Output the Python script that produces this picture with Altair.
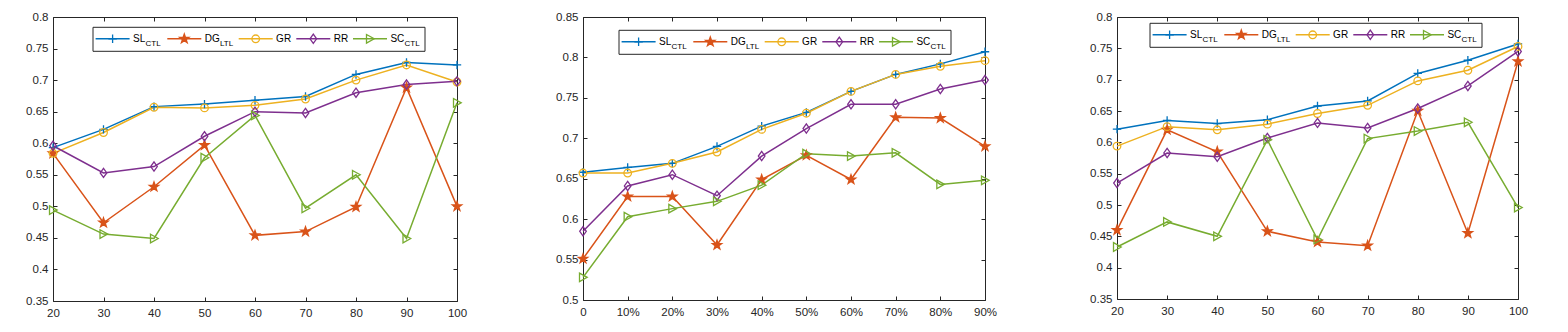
import math
import altair as alt
import pandas as pd

# ---------------- data ----------------
SERIES = ["SL", "DG", "GR", "RR", "SC"]
SUBSCRIPTS = ["CTL", "LTL", "", "", "CTL"]
COLORS = ["#0072BD", "#D95319", "#EDB120", "#7E2F8E", "#77AC30"]

X_COUNT = [20, 30, 40, 50, 60, 70, 80, 90, 100]
X_PCT = [0, 10, 20, 30, 40, 50, 60, 70, 80, 90]

P1_SL = [0.593, 0.622, 0.658, 0.662, 0.668, 0.674, 0.709, 0.728, 0.724]
P1_DG = [0.584, 0.474, 0.531, 0.597, 0.454, 0.460, 0.499, 0.688, 0.500]
P1_GR = [0.584, 0.617, 0.657, 0.656, 0.660, 0.670, 0.700, 0.724, 0.697]
P1_RR = [0.596, 0.553, 0.563, 0.611, 0.650, 0.648, 0.680, 0.693, 0.698]
P1_SC = [0.494, 0.456, 0.449, 0.577, 0.644, 0.497, 0.550, 0.449, 0.664]

P2_SL = [0.658, 0.664, 0.669, 0.690, 0.715, 0.732, 0.758, 0.779, 0.792, 0.807]
P2_DG = [0.551, 0.628, 0.628, 0.568, 0.649, 0.679, 0.649, 0.726, 0.725, 0.690]
P2_GR = [0.657, 0.657, 0.669, 0.683, 0.711, 0.731, 0.758, 0.779, 0.789, 0.796]
P2_RR = [0.585, 0.641, 0.655, 0.629, 0.678, 0.712, 0.742, 0.742, 0.761, 0.772]
P2_SC = [0.528, 0.603, 0.613, 0.622, 0.642, 0.681, 0.678, 0.682, 0.643, 0.648]

P3_SL = [0.621, 0.635, 0.630, 0.636, 0.658, 0.666, 0.710, 0.731, 0.757]
P3_DG = [0.460, 0.620, 0.585, 0.458, 0.441, 0.435, 0.650, 0.455, 0.729]
P3_GR = [0.594, 0.625, 0.620, 0.629, 0.646, 0.659, 0.698, 0.715, 0.753]
P3_RR = [0.535, 0.583, 0.577, 0.607, 0.631, 0.623, 0.654, 0.690, 0.745]
P3_SC = [0.433, 0.473, 0.450, 0.604, 0.445, 0.606, 0.618, 0.632, 0.496]

Y_TICKS_A = [0.35, 0.4, 0.45, 0.5, 0.55, 0.6, 0.65, 0.7, 0.75, 0.8]
Y_TICKS_B = [0.5, 0.55, 0.6, 0.65, 0.7, 0.75, 0.8, 0.85]

FONT = "Liberation Sans"
AXIS_COLOR = "#262626"

# ---------------- marker geometry (pixels) ----------------
KINDS = ["plus", "star", "circle", "diamond", "triangle"]


def _poly(points, k):
    return "M" + "L".join(f"{x * k:.4f},{y * k:.4f}" for x, y in points) + "Z"


def marker(kind, half):
    k = 1.0 / half
    if kind == "plus":
        a = 4.2 * k
        return f"M{-a:.4f},0H{a:.4f}M0,{-a:.4f}V{a:.4f}"
    if kind == "star":
        parts = []
        for R in (4.9, 3.1, 1.5):
            pts = []
            for i in range(10):
                ang = math.radians(-90 + 36 * i)
                r = R if i % 2 == 0 else R * 0.40
                pts.append((r * math.cos(ang), r * math.sin(ang)))
            parts.append(_poly(pts, k))
        return "".join(parts)
    if kind == "circle":
        r = 3.8 * k
        return (f"M{-r:.4f},0A{r:.4f},{r:.4f} 0 1,0 {r:.4f},0"
                f"A{r:.4f},{r:.4f} 0 1,0 {-r:.4f},0Z")
    if kind == "diamond":
        return _poly([(0, -4.6), (3.3, 0), (0, 4.6), (-3.3, 0)], k)
    return _poly([(-3.5, -4.3), (4.2, 0), (-3.5, 4.3)], k)


PLOT_HALF = 5.0
MARK_SIZE = PLOT_HALF * PLOT_HALF * 4
PLOT_SHAPES = [marker(kd, PLOT_HALF) for kd in KINDS]

# legend layout (pixels, relative to the legend box)
ENTRY_X = [2.6, 74.3, 145.7, 203.3, 260.0]
LINE_LEN = 34
LABEL_GAP = 3.4
BOX_W, BOX_H = 332, 24
LINE_Y, LABEL_BASE, SUB_BASE = 11.5, 14.5, 19.0
LEG_FS, SUB_FS = 10, 8
ADV = {"S": 667, "L": 556, "D": 722, "G": 778, "R": 722, "C": 722, "T": 611}

LEG_DF = pd.DataFrame({"series": SERIES, "sub": SUBSCRIPTS})


def text_w(s, fs):
    return sum(ADV[c] for c in s) * fs / 1000.0


def legend_layers(bx, by):
    leg = alt.Chart(LEG_DF)
    out = [leg.transform_filter(alt.datum.series == SERIES[0]).mark_rect(
        fill="white", stroke=AXIS_COLOR, strokeWidth=1).encode(
        x=alt.value(bx), x2=alt.value(bx + BOX_W),
        y=alt.value(by), y2=alt.value(by + BOX_H))]
    for i, (name, sub, col) in enumerate(zip(SERIES, SUBSCRIPTS, COLORS)):
        one = leg.transform_filter(alt.datum.series == name)
        x0 = bx + ENTRY_X[i]
        out.append(one.mark_rule(strokeWidth=1.5, color=col).encode(
            x=alt.value(x0), x2=alt.value(x0 + LINE_LEN), y=alt.value(by + LINE_Y)))
        out.append(one.mark_point(filled=False, size=MARK_SIZE, strokeWidth=1.3,
                                  opacity=1, color=col, shape=PLOT_SHAPES[i]).encode(
            x=alt.value(x0 + LINE_LEN / 2), y=alt.value(by + LINE_Y)))
        lx = x0 + LINE_LEN + LABEL_GAP
        out.append(one.mark_text(align="left", baseline="alphabetic", font=FONT,
                                 fontSize=LEG_FS, color="black").encode(
            x=alt.value(lx), y=alt.value(by + LABEL_BASE), text="series:N"))
        if sub:
            out.append(one.mark_text(align="left", baseline="alphabetic", font=FONT,
                                     fontSize=SUB_FS, color="black").encode(
                x=alt.value(lx + text_w(name, LEG_FS) + 0.3),
                y=alt.value(by + SUB_BASE), text="sub:N"))
    return out


def panel(x_vals, cols, y_dom, y_ticks, x_dom, W, H, leg_x, leg_y, pct=False):
    rows = []
    for name, vals in zip(SERIES, cols):
        for xv, yv in zip(x_vals, vals):
            rows.append({"x": xv, "y": yv, "series": name})
    df = pd.DataFrame(rows)
    base = alt.Chart(df)
    xs = alt.Scale(domain=x_dom, nice=False, zero=False)
    ys = alt.Scale(domain=y_dom, nice=False, zero=False)
    cscale = alt.Scale(domain=SERIES, range=COLORS)

    x_axis_kw = dict(values=x_vals, ticks=False, domain=False, grid=False,
                     labelPadding=6, title=None, labelFlush=False, labelOverlap=False)
    if pct:
        x_axis_kw["labelExpr"] = "datum.value == 0 ? '0' : datum.value + '%'"
    y_axis_kw = dict(values=y_ticks, format=".2~f", ticks=False, domain=False,
                     grid=False, labelPadding=5, title=None, labelFlush=False,
                     labelOverlap=False)

    lines = base.mark_line(strokeWidth=1.5).encode(
        x=alt.X("x:Q", scale=xs, axis=alt.Axis(**x_axis_kw)),
        y=alt.Y("y:Q", scale=ys, axis=alt.Axis(**y_axis_kw)),
        color=alt.Color("series:N", scale=cscale, legend=None),
    )
    points = base.mark_point(filled=False, size=MARK_SIZE,
                             strokeWidth=1.3, opacity=1).encode(
        x=alt.X("x:Q", scale=xs, axis=None),
        y=alt.Y("y:Q", scale=ys, axis=None),
        color=alt.Color("series:N", scale=cscale, legend=None),
        shape=alt.Shape("series:N", scale=alt.Scale(domain=SERIES, range=PLOT_SHAPES),
                        legend=None),
    )
    tick_kw = dict(labels=False, domain=False, grid=False, ticks=True, tickSize=4,
                   tickColor=AXIS_COLOR, tickWidth=1, title=None)
    empty = base.transform_filter("false").mark_point(opacity=0)
    ax_b = empty.encode(
        x=alt.X("x:Q", scale=xs, axis=alt.Axis(orient="top", offset=-H, values=x_vals, **tick_kw)),
        y=alt.Y("y:Q", scale=ys, axis=alt.Axis(orient="right", offset=-W, values=y_ticks, **tick_kw)),
    )
    ax_c = empty.encode(
        x=alt.X("x:Q", scale=xs, axis=alt.Axis(orient="bottom", offset=-H, values=x_vals, **tick_kw)),
        y=alt.Y("y:Q", scale=ys, axis=alt.Axis(orient="left", offset=-W, values=y_ticks, **tick_kw)),
    )

    return alt.layer(lines, points, ax_b, ax_c, *legend_layers(leg_x, leg_y)).resolve_axis(
        x="independent", y="independent").properties(width=W, height=H)


p1 = panel(X_COUNT, [P1_SL, P1_DG, P1_GR, P1_RR, P1_SC], [0.35, 0.8], Y_TICKS_A,
           [20, 100], 404, 284, 40, 10.3)
p2 = panel(X_PCT, [P2_SL, P2_DG, P2_GR, P2_RR, P2_SC], [0.5, 0.85], Y_TICKS_B,
           [0, 90], 402, 283, 36, 13.3, pct=True)
p3 = panel(X_COUNT, [P3_SL, P3_DG, P3_GR, P3_RR, P3_SC], [0.35, 0.8], Y_TICKS_A,
           [20, 100], 401, 282, 33, 6.3)

inner = alt.hconcat(p2, p3, spacing=91)
chart = alt.hconcat(p1, inner, spacing=87).properties(
    padding={"left": 25, "top": 10, "right": 5, "bottom": 5}
).configure(font=FONT).configure_view(
    stroke=AXIS_COLOR, strokeWidth=1
).configure_axis(
    labelFont=FONT, labelFontSize=11.5, labelColor=AXIS_COLOR
)

chart.save("out.html", embed_options={"renderer": "svg", "actions": False})
